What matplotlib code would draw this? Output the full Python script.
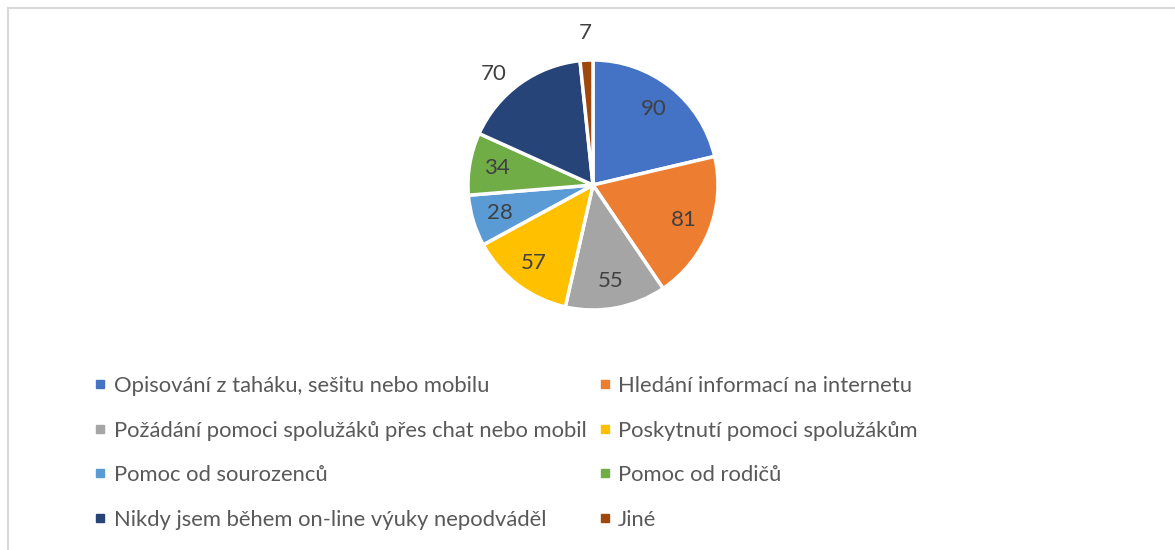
import numpy as np
import matplotlib.pyplot as plt
from matplotlib.lines import Line2D

# data
categories = [
    "Opisování z taháku, sešitu nebo mobilu",
    "Hledání informací na internetu",
    "Požádání pomoci spolužáků přes chat nebo mobil",
    "Poskytnutí pomoci spolužákům",
    "Pomoc od sourozenců",
    "Pomoc od rodičů",
    "Nikdy jsem během on-line výuky nepodváděl",
    "Jiné",
]
values = [90, 81, 55, 57, 28, 34, 70, 7]
colors = ["#4472C4", "#ED7D31", "#A5A5A5", "#FFC000",
          "#5B9BD5", "#70AD47", "#264478", "#9E480E"]

plt.rcParams['font.family'] = ['Lato', 'DejaVu Sans']

W, H = 1175, 550
fig = plt.figure(figsize=(W / 100, H / 100), dpi=100)

# chart frame (light grey, cut by the image edges)
fig.add_artist(Line2D([8 / W, 1], [1 - 8 / H, 1 - 8 / H], color="#D9D9D9", lw=1.5))
fig.add_artist(Line2D([8 / W, 8 / W], [0, 1 - 8 / H], color="#D9D9D9", lw=1.5))

# pie axes: center (593, 185) px, radius 125 px
cx, cy, r = 593, 185, 125
half = 1.4 * r
ax = fig.add_axes([(cx - half) / W, (H - cy - half) / H, 2 * half / W, 2 * half / H])

wedges, texts = ax.pie(values, colors=colors, startangle=90, counterclock=False,
                       radius=1.0, labels=[str(v) for v in values],
                       labeldistance=0.78,
                       wedgeprops=dict(edgecolor="white", linewidth=2.5),
                       textprops=dict(fontsize=16, color="#404040"))
ax.set_xlim(-1.4, 1.4)
ax.set_ylim(-1.4, 1.4)
ax.axis("off")
for t in texts:
    t.set_horizontalalignment("center")
    t.set_verticalalignment("center")

# small / crowded slices labelled outside (best fit), with a small angular nudge
total = sum(values)
cum = np.cumsum([0] + values)
for i, dist, nudge in [(6, 1.19, -6), (7, 1.22, 0)]:
    mid = np.deg2rad((cum[i] + cum[i + 1]) / 2 / total * 360 + nudge)
    texts[i].set_position((dist * np.sin(mid), dist * np.cos(mid)))

# legend, row-major in two columns
handles = [Line2D([], [], marker="s", linestyle="none", markersize=6,
                  markerfacecolor=c, markeredgecolor=c) for c in colors]
order = [0, 2, 4, 6, 1, 3, 5, 7]
leg = fig.legend([handles[i] for i in order], [categories[i] for i in order],
                 ncol=2, loc="upper left", bbox_to_anchor=(95 / W, 1 - 376 / H),
                 frameon=False, fontsize=15.8, handlelength=0.5, handletextpad=0.35,
                 columnspacing=0.6, labelspacing=1.12, borderaxespad=0, borderpad=0)
for t in leg.get_texts():
    t.set_color("#595959")

fig.savefig("out.png", dpi=100)
